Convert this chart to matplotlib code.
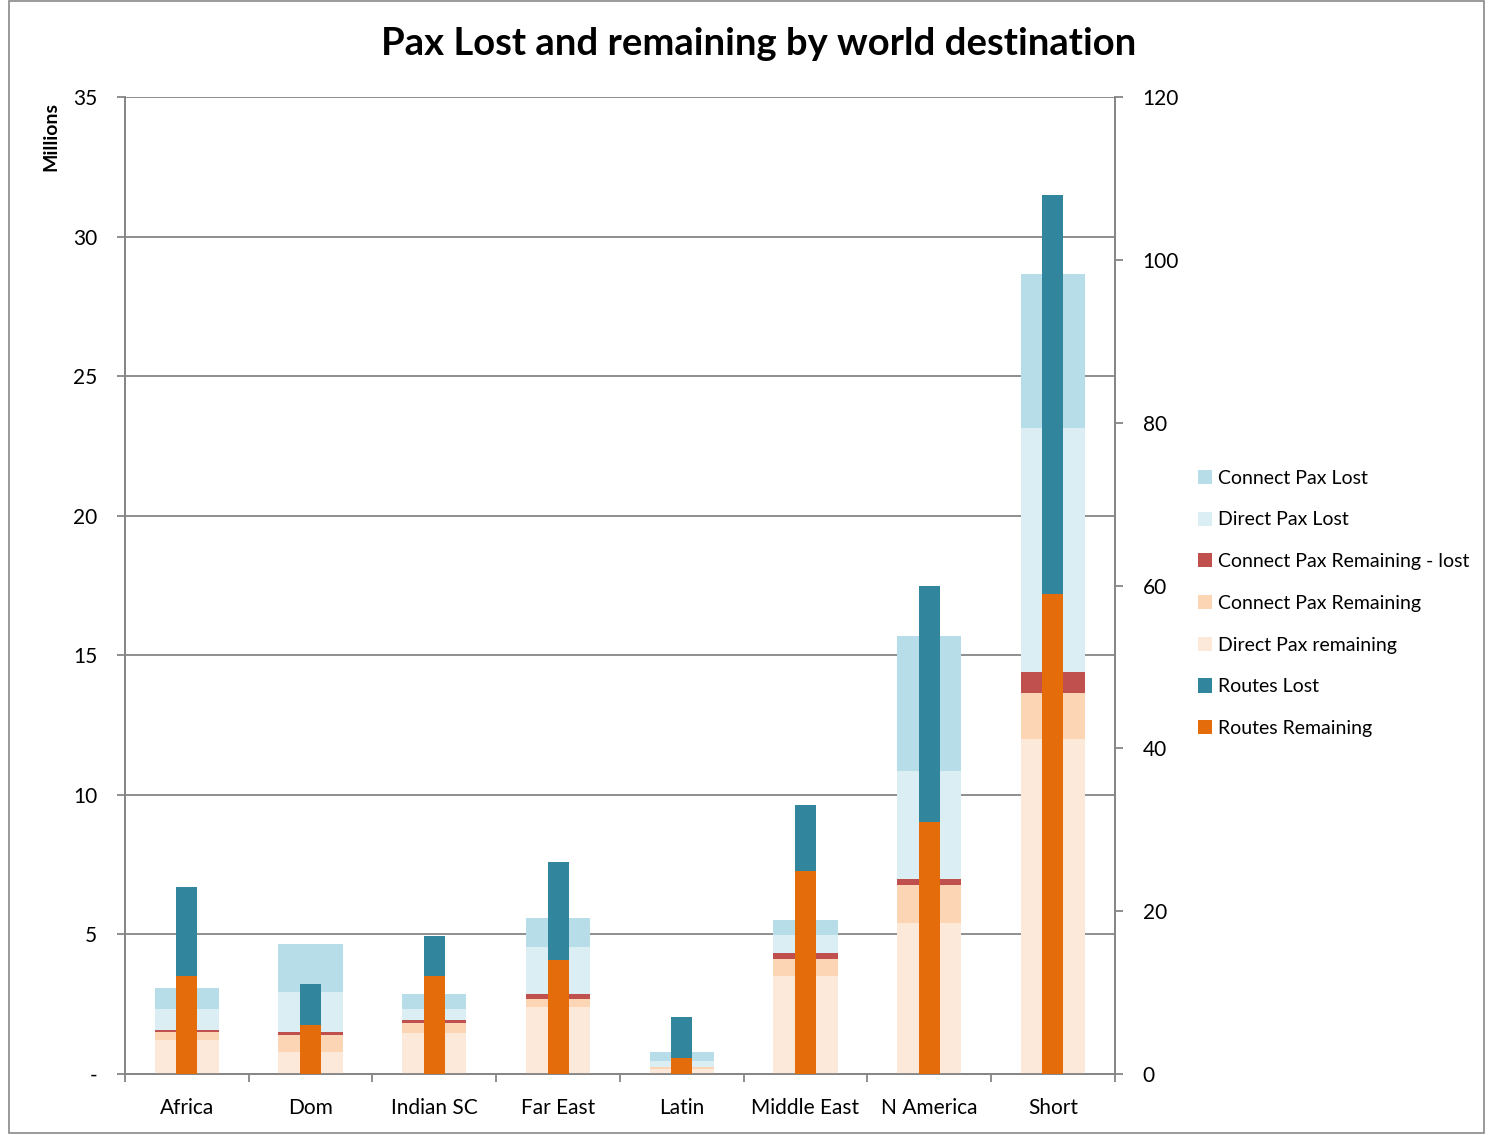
import numpy as np
import matplotlib
matplotlib.use('Agg')
import matplotlib.pyplot as plt
from matplotlib.patches import Rectangle, Patch

plt.rcParams['font.family'] = ['Lato', 'DejaVu Sans']

regions = ['Africa', 'Dom', 'Indian SC', 'Far East', 'Latin', 'Middle East', 'N America', 'Short']

# passengers, millions (stacked bottom -> top)
direct_remaining = [1.22, 0.79, 1.48, 2.40, 0.19, 3.50, 5.41, 11.99]
connect_remaining = [0.30, 0.61, 0.35, 0.30, 0.05, 0.61, 1.35, 1.65]
connect_remaining_lost = [0.06, 0.10, 0.10, 0.17, 0.02, 0.24, 0.24, 0.78]
direct_lost = [0.75, 1.44, 0.40, 1.68, 0.22, 0.63, 3.86, 8.71]
connect_lost = [0.74, 1.72, 0.55, 1.04, 0.31, 0.55, 4.83, 5.54]

# number of routes (secondary axis)
routes_remaining = [12, 6, 12, 14, 2, 25, 31, 59]
routes_lost = [11, 5, 5, 12, 5, 8, 29, 49]

pax_series = [
    ('Direct Pax remaining', direct_remaining, '#FDE9D9'),
    ('Connect Pax Remaining', connect_remaining, '#FCD5B5'),
    ('Connect Pax Remaining - lost', connect_remaining_lost, '#C0504D'),
    ('Direct Pax Lost', direct_lost, '#DAEEF3'),
    ('Connect Pax Lost', connect_lost, '#B7DEE8'),
]
route_series = [
    ('Routes Remaining', routes_remaining, '#E46C0A'),
    ('Routes Lost', routes_lost, '#31859C'),
]

grid_col = '#868686'
fig = plt.figure(figsize=(14.93, 11.35), dpi=100)
fig.add_artist(Rectangle((0.006, 0.002), 0.988, 0.997, transform=fig.transFigure,
                         fill=False, edgecolor='#898989', linewidth=1.2))

ax = fig.add_axes([0.0837, 0.0537, 0.663, 0.8608])
ax2 = ax.twinx()

x = np.arange(len(regions))
bottom = np.zeros(len(regions))
for name, vals, col in pax_series:
    ax.bar(x, vals, width=0.52, bottom=bottom, color=col, linewidth=0, zorder=3)
    bottom += np.array(vals)

bottom = np.zeros(len(regions))
for name, vals, col in route_series:
    ax2.bar(x, vals, width=0.17, bottom=bottom, color=col, linewidth=0, zorder=3)
    bottom += np.array(vals)

ax.set_xlim(-0.5, len(regions) - 0.5)
ax.set_ylim(0, 35)
ax2.set_ylim(0, 120)
ax.set_yticks(np.arange(0, 36, 5))
ax.set_yticklabels(['-'] + [str(v) for v in range(5, 36, 5)])
ax2.set_yticks(np.arange(0, 121, 20))
ax.yaxis.grid(True, color=grid_col, linewidth=1.3, zorder=0)
ax.set_axisbelow(True)

ax.set_xticks(x)
ax.set_xticklabels(regions)
ax.set_xticks(np.arange(-0.5, len(regions)), minor=True)
ax.tick_params(axis='x', which='major', length=0, pad=17, labelsize=15)
ax.tick_params(axis='x', which='minor', length=6, width=1.3, color=grid_col, direction='out')
ax.tick_params(axis='y', length=6, width=1.3, color=grid_col, labelsize=15, pad=14)
ax2.tick_params(axis='y', length=6, width=1.3, color=grid_col, labelsize=15, pad=14)

for a in (ax, ax2):
    a.spines['top'].set_visible(False)
    for s in ('left', 'right', 'bottom'):
        a.spines[s].set_color(grid_col)
        a.spines[s].set_linewidth(1.3)

ax.set_ylabel('Millions', fontsize=14, fontweight='bold')
ax.yaxis.set_label_coords(-0.066, 0.96)

fig.text(0.508, 0.961, 'Pax Lost and remaining by world destination',
         ha='center', va='center', fontsize=27.5, fontweight='bold')

legend_items = [
    ('Connect Pax Lost', '#B7DEE8'),
    ('Direct Pax Lost', '#DAEEF3'),
    ('Connect Pax Remaining - lost', '#C0504D'),
    ('Connect Pax Remaining', '#FCD5B5'),
    ('Direct Pax remaining', '#FDE9D9'),
    ('Routes Lost', '#31859C'),
    ('Routes Remaining', '#E46C0A'),
]
handles = [Patch(facecolor=c, edgecolor='none', label=n) for n, c in legend_items]
fig.legend(handles=handles, loc='upper left', bbox_to_anchor=(0.797, 0.593),
           frameon=False, fontsize=14, handlelength=0.75, handleheight=0.75,
           handletextpad=0.3, labelspacing=1.27, borderaxespad=0)

fig.savefig('out.png', dpi=100)
